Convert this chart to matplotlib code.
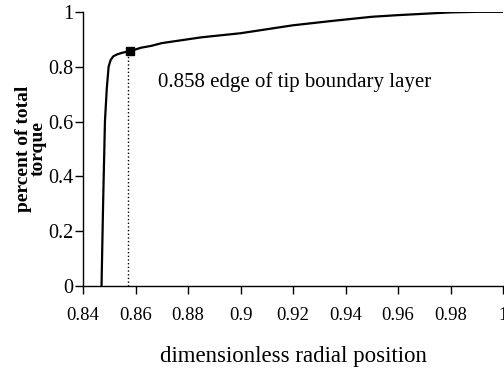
import matplotlib
matplotlib.use("Agg")
import matplotlib.pyplot as plt

# radial position vs cumulative torque fraction
radial_position = [0.8470, 0.8476, 0.8483, 0.8490, 0.8497, 0.8505, 0.8515, 0.8530,
                   0.8550, 0.8580, 0.8620, 0.8660, 0.8700, 0.8850, 0.9000, 0.9200,
                   0.9350, 0.9500, 0.9600, 0.9700, 0.9800, 0.9900, 1.0000]
torque_fraction = [0.000, 0.300, 0.600, 0.720, 0.800, 0.825, 0.838, 0.845,
                   0.851, 0.857, 0.869, 0.876, 0.886, 0.907, 0.922, 0.951,
                   0.967, 0.982, 0.988, 0.993, 0.998, 1.000, 1.000]

edge_x = 0.857
edge_y = 0.857
edge_label = "0.858 edge of tip boundary layer"

x_ticks = [0.84, 0.86, 0.88, 0.90, 0.92, 0.94, 0.96, 0.98, 1.00]
x_tick_labels = ["0.84", "0.86", "0.88", "0.9", "0.92", "0.94", "0.96", "0.98", "1"]
y_ticks = [0, 0.2, 0.4, 0.6, 0.8, 1.0]
y_tick_labels = ["0", "0.2", "0.4", "0.6", "0.8", "1"]

plt.rcParams["font.family"] = ["Liberation Serif", "DejaVu Serif"]

fig = plt.figure(figsize=(5.04, 3.70), dpi=100)
ax = fig.add_axes([0.165, 0.227, 0.833, 0.741])

ax.plot(radial_position, torque_fraction, color="k", linewidth=1.6)
ax.plot([edge_x, edge_x], [0, edge_y], color="k", linestyle=":", linewidth=1.0)
ax.plot([edge_x + 0.0009], [edge_y], marker="s", color="k", markersize=6)
ax.text(0.8684, 0.745, edge_label, fontsize=15, va="center", ha="left")

ax.set_xlim(0.84, 1.0)
ax.set_ylim(0, 1.0)
ax.set_xticks(x_ticks)
ax.set_xticklabels(x_tick_labels, fontsize=13.5)
ax.set_yticks(y_ticks)
ax.set_yticklabels(y_tick_labels, fontsize=14.5)
ax.tick_params(axis="both", direction="out", length=6, width=1, color="k")
ax.tick_params(axis="x", pad=9)
ax.tick_params(axis="y", pad=1)

ax.spines["top"].set_visible(False)
ax.spines["right"].set_visible(False)
ax.spines["left"].set_linewidth(1)
ax.spines["bottom"].set_linewidth(1)

ax.set_xlabel("dimensionless radial position", fontsize=16.5, labelpad=16)
ax.set_ylabel("percent of total\ntorque", fontsize=14, fontweight="bold",
              linespacing=0.85, labelpad=1)

fig.savefig("out.png", dpi=100)
